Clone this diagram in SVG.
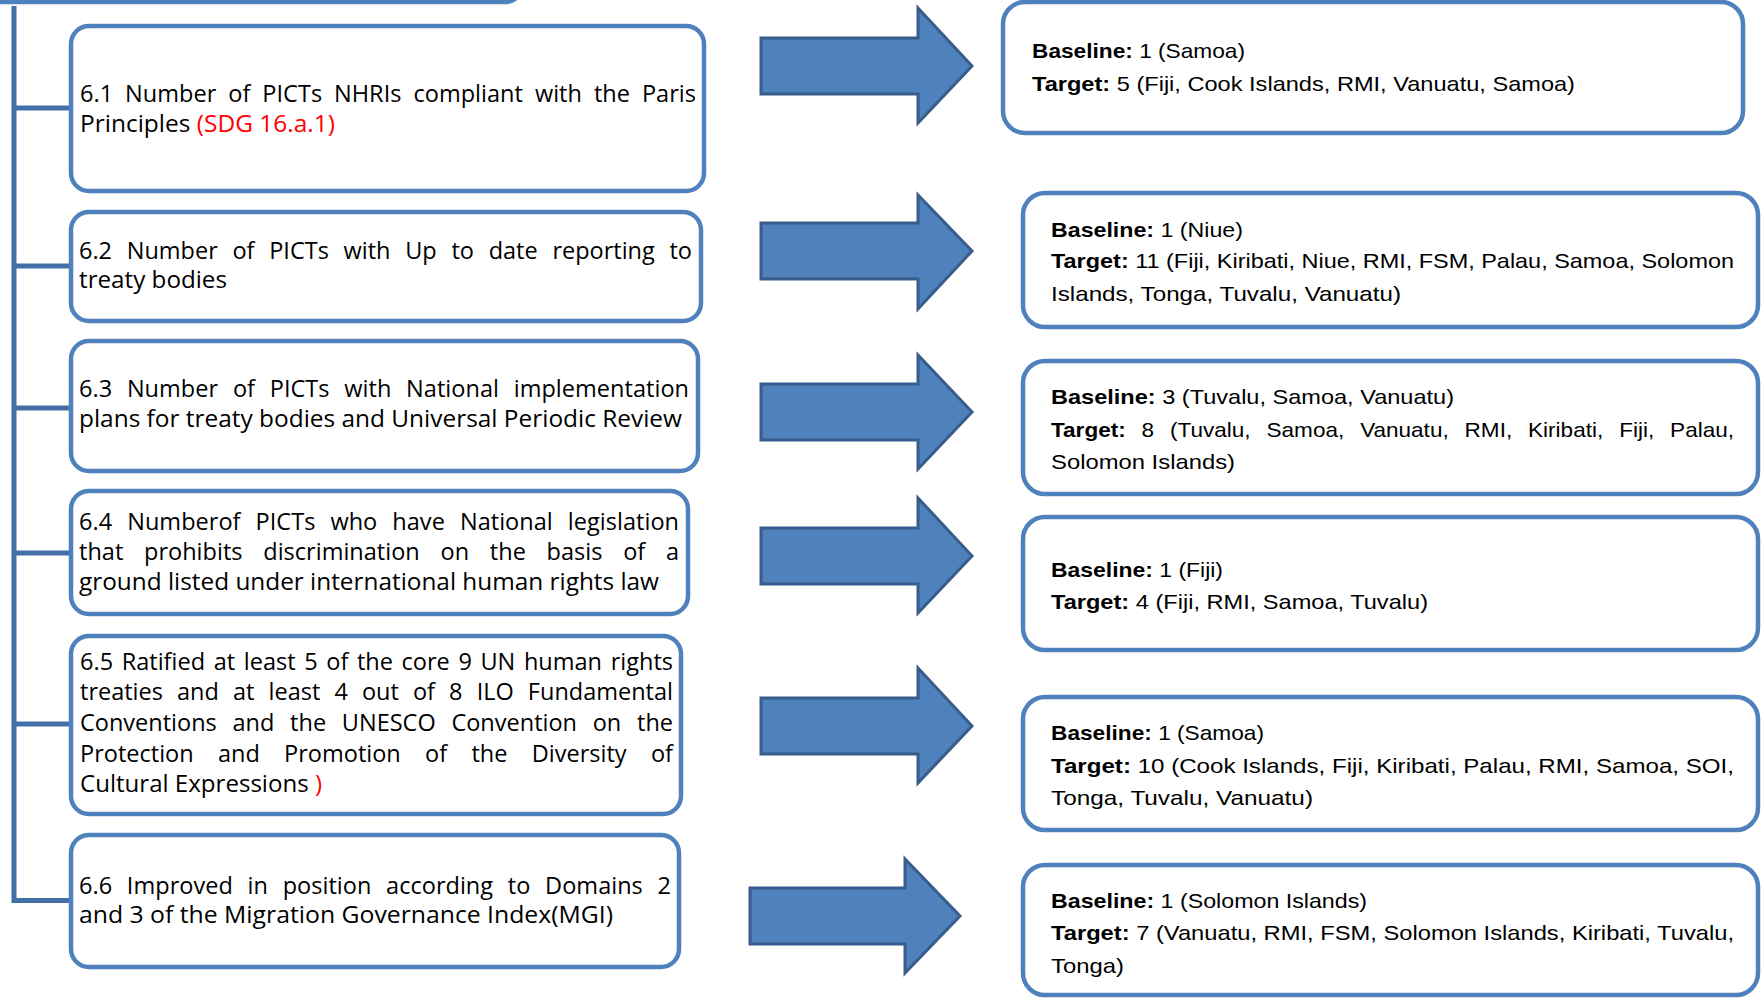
<svg xmlns="http://www.w3.org/2000/svg" width="1761" height="998" viewBox="0 0 1761 998">
<style>
.box{fill:#fff;stroke:#4F81BD;stroke-width:4.5}
.tree{fill:none;stroke:#4470A8;stroke-width:5;stroke-linejoin:miter}
.arrow{fill:#4F81BD;stroke:#385D8A;stroke-width:3;stroke-linejoin:miter}
.lt{font-family:"Open Sans","Liberation Sans",Arial,sans-serif;font-size:23.5px;fill:#000}
.rt{font-family:"Liberation Sans",Arial,sans-serif;font-size:21px;fill:#000}
.b{font-weight:bold}
.red{fill:#FF0000}
</style>
<rect width="1761" height="998" fill="#fff"/>
<g id="header">
<rect class="box" x="-30" y="-58" width="553" height="60" rx="18"/>
</g>
<g id="connectors">
<path class="tree" d="M14 6 V900.5 H70 M14 108 H70 M14 266 H70 M14 408 H70 M14 553 H70 M14 724 H70"/>
<polygon class="arrow" points="761,38 918,38 918,8 972,66 918,123 918,94 761,94"/>
<polygon class="arrow" points="761,223 918,223 918,195 972,251 918,309 918,279 761,279"/>
<polygon class="arrow" points="761,384 918,384 918,355 972,412 918,469 918,440 761,440"/>
<polygon class="arrow" points="761,528 918,528 918,498 972,556 918,613 918,584 761,584"/>
<polygon class="arrow" points="761,698 918,698 918,668 972,726 918,783 918,754 761,754"/>
<polygon class="arrow" points="750,888 905,888 905,859 960,916 905,973 905,944 750,944"/>
</g>
<g id="n61">
<rect class="box" x="71" y="26" width="633" height="165" rx="18"/>
<text class="lt" x="80" y="102" word-spacing="5.8" textLength="616" lengthAdjust="spacing">6.1 Number of PICTs NHRIs compliant with the Paris</text>
<text class="lt" x="80" y="132" textLength="255" lengthAdjust="spacingAndGlyphs">Principles <tspan class="red">(SDG 16.a.1)</tspan></text>
</g>
<g id="n62">
<rect class="box" x="71" y="212" width="630" height="109" rx="18"/>
<text class="lt" x="79" y="259" word-spacing="8.6" textLength="613" lengthAdjust="spacing">6.2 Number of PICTs with Up to date reporting to</text>
<text class="lt" x="79" y="288" textLength="148" lengthAdjust="spacingAndGlyphs">treaty bodies</text>
</g>
<g id="n63">
<rect class="box" x="71" y="341" width="627" height="130" rx="18"/>
<text class="lt" x="79" y="397" word-spacing="8.6" textLength="610" lengthAdjust="spacing">6.3 Number of PICTs with National implementation</text>
<text class="lt" x="79" y="427" textLength="603" lengthAdjust="spacingAndGlyphs">plans for treaty bodies and Universal Periodic Review</text>
</g>
<g id="n64">
<rect class="box" x="71" y="491" width="617" height="123" rx="18"/>
<text class="lt" x="79" y="530" word-spacing="8.9" textLength="600" lengthAdjust="spacing">6.4 Numberof PICTs who have National legislation</text>
<text class="lt" x="79" y="560" word-spacing="14.6" textLength="600" lengthAdjust="spacing">that prohibits discrimination on the basis of a</text>
<text class="lt" x="79" y="590" textLength="580" lengthAdjust="spacingAndGlyphs">ground listed under international human rights law</text>
</g>
<g id="n65">
<rect class="box" x="71" y="636" width="610" height="178" rx="18"/>
<text class="lt" x="80" y="670" word-spacing="2.5" textLength="593" lengthAdjust="spacing">6.5 Ratified at least 5 of the core 9 UN human rights</text>
<text class="lt" x="80" y="700" word-spacing="8" textLength="593" lengthAdjust="spacing">treaties and at least 4 out of 8 ILO Fundamental</text>
<text class="lt" x="80" y="731" word-spacing="9.6" textLength="593" lengthAdjust="spacing">Conventions and the UNESCO Convention on the</text>
<text class="lt" x="80" y="762" word-spacing="18.2" textLength="593" lengthAdjust="spacing">Protection and Promotion of the Diversity of</text>
<text class="lt" x="80" y="792" textLength="242" lengthAdjust="spacingAndGlyphs">Cultural Expressions <tspan class="red">)</tspan></text>
</g>
<g id="n66">
<rect class="box" x="71" y="835" width="608" height="132" rx="18"/>
<text class="lt" x="79" y="894" word-spacing="8.6" textLength="592" lengthAdjust="spacing">6.6 Improved in position according to Domains 2</text>
<text class="lt" x="79" y="923" textLength="534" lengthAdjust="spacingAndGlyphs">and 3 of the Migration Governance Index(MGI)</text>
</g>
<g id="r61">
<rect class="box" x="1003" y="2" width="740" height="131" rx="22"/>
<text class="rt" x="1032" y="58" textLength="213" lengthAdjust="spacingAndGlyphs"><tspan class="b">Baseline:</tspan> 1 (Samoa)</text>
<text class="rt" x="1032" y="91" textLength="543" lengthAdjust="spacingAndGlyphs"><tspan class="b">Target:</tspan> 5 (Fiji, Cook Islands, RMI, Vanuatu, Samoa)</text>
</g>
<g id="r62">
<rect class="box" x="1023" y="193" width="735" height="134" rx="22"/>
<text class="rt" x="1051" y="237" textLength="192" lengthAdjust="spacingAndGlyphs"><tspan class="b">Baseline:</tspan> 1 (Niue)</text>
<text class="rt" x="1051" y="268" textLength="683" lengthAdjust="spacingAndGlyphs"><tspan class="b">Target:</tspan> 11 (Fiji, Kiribati, Niue, RMI, FSM, Palau, Samoa, Solomon</text>
<text class="rt" x="1051" y="301" textLength="350" lengthAdjust="spacingAndGlyphs">Islands, Tonga, Tuvalu, Vanuatu)</text>
</g>
<g id="r63">
<rect class="box" x="1023" y="361" width="735" height="133" rx="22"/>
<text class="rt" x="1051" y="404" textLength="403" lengthAdjust="spacingAndGlyphs"><tspan class="b">Baseline:</tspan> 3 (Tuvalu, Samoa, Vanuatu)</text>
<text class="rt" x="1051" y="437" word-spacing="9" textLength="683" lengthAdjust="spacingAndGlyphs"><tspan class="b">Target:</tspan> 8 (Tuvalu, Samoa, Vanuatu, RMI, Kiribati, Fiji, Palau,</text>
<text class="rt" x="1051" y="469" textLength="184" lengthAdjust="spacingAndGlyphs">Solomon Islands)</text>
</g>
<g id="r64">
<rect class="box" x="1023" y="517" width="735" height="133" rx="22"/>
<text class="rt" x="1051" y="577" textLength="172" lengthAdjust="spacingAndGlyphs"><tspan class="b">Baseline:</tspan> 1 (Fiji)</text>
<text class="rt" x="1051" y="609" textLength="377" lengthAdjust="spacingAndGlyphs"><tspan class="b">Target:</tspan> 4 (Fiji, RMI, Samoa, Tuvalu)</text>
</g>
<g id="r65">
<rect class="box" x="1023" y="697" width="735" height="133" rx="22"/>
<text class="rt" x="1051" y="740" textLength="213" lengthAdjust="spacingAndGlyphs"><tspan class="b">Baseline:</tspan> 1 (Samoa)</text>
<text class="rt" x="1051" y="773" textLength="683" lengthAdjust="spacingAndGlyphs"><tspan class="b">Target:</tspan> 10 (Cook Islands, Fiji, Kiribati, Palau, RMI, Samoa, SOI,</text>
<text class="rt" x="1051" y="805" textLength="262" lengthAdjust="spacingAndGlyphs">Tonga, Tuvalu, Vanuatu)</text>
</g>
<g id="r66">
<rect class="box" x="1023" y="865" width="735" height="130" rx="22"/>
<text class="rt" x="1051" y="908" textLength="316" lengthAdjust="spacingAndGlyphs"><tspan class="b">Baseline:</tspan> 1 (Solomon Islands)</text>
<text class="rt" x="1051" y="940" textLength="683" lengthAdjust="spacingAndGlyphs"><tspan class="b">Target:</tspan> 7 (Vanuatu, RMI, FSM, Solomon Islands, Kiribati, Tuvalu,</text>
<text class="rt" x="1051" y="973" textLength="73" lengthAdjust="spacingAndGlyphs">Tonga)</text>
</g>
</svg>
